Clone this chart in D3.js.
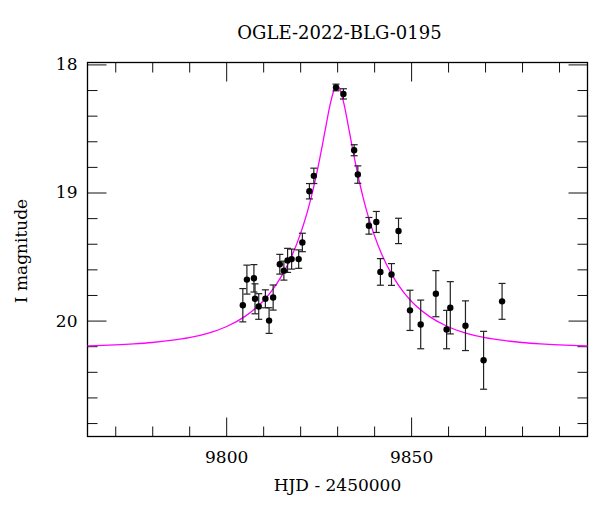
<!DOCTYPE html>
<html>
<head>
<meta charset="utf-8">
<!-- Load d3 -->
<script src="https://d3js.org/d3.v7.min.js"></script>
<title>OGLE-2022-BLG-0195</title>
<style type="text/css">
  body { margin: 0; background: #fff; }
  text { font-family: "DejaVu Serif", serif; fill: #000; }
</style>
</head>
<body>
<div id="myvisualization"></div>
<script>

// observed points (HJD - 2450000, I mag, error)
var hjd = [9804.5, 9805.6, 9807.5, 9807.8, 9808.8, 9810.6, 9811.6, 9812.7, 9814.5, 9815.6,
           9816.6, 9817.7, 9819.6, 9820.6, 9822.5, 9823.7, 9829.7, 9831.7, 9834.6, 9835.6,
           9838.6, 9840.6, 9841.7, 9844.7, 9846.6, 9849.7, 9852.6, 9856.7, 9859.6, 9860.6,
           9864.7, 9869.6, 9874.6];
var mag = [19.88, 19.68, 19.67, 19.83, 19.89, 19.83, 20.00, 19.82, 19.56, 19.61,
           19.53, 19.52, 19.52, 19.39, 18.99, 18.87, 18.18, 18.23, 18.67, 18.86,
           19.26, 19.23, 19.62, 19.64, 19.30, 19.92, 20.03, 19.79, 20.07, 19.90,
           20.04, 20.31, 19.85];
var err = [0.13, 0.113, 0.107, 0.117, 0.10, 0.07, 0.10, 0.098, 0.077, 0.074,
           0.094, 0.078, 0.072, 0.072, 0.06, 0.06, 0.026, 0.04, 0.043, 0.068,
           0.065, 0.082, 0.104, 0.085, 0.099, 0.157, 0.19, 0.18, 0.15, 0.204,
           0.194, 0.226, 0.14];

// model curve
var modelDay = [9760, 9765, 9770, 9775, 9780, 9785, 9790, 9795, 9800, 9805, 9809, 9810, 9812, 9815,
                9818, 9820, 9821, 9822, 9823, 9824, 9825, 9826, 9827, 9828, 9829, 9829.5, 9830,
                9830.5, 9831, 9832, 9833, 9834, 9835, 9836, 9837, 9838, 9839, 9840, 9842, 9845,
                9848, 9850, 9851, 9855, 9860, 9865, 9870, 9875, 9880, 9885, 9890, 9895, 9900];
var modelMag = [20.200, 20.196, 20.190, 20.182, 20.171, 20.155, 20.133, 20.099, 20.048, 19.969, 19.876, 19.847, 19.780, 19.651,
                19.479, 19.329, 19.242, 19.145, 19.036, 18.914, 18.779, 18.632, 18.477, 18.328, 18.213, 18.179, 18.167,
                18.179, 18.213, 18.328, 18.477, 18.632, 18.779, 18.914, 19.036, 19.145, 19.242, 19.329, 19.479, 19.651,
                19.780, 19.847, 19.876, 19.969, 20.048, 20.099, 20.133, 20.155, 20.171, 20.182, 20.190, 20.196, 20.200];

// ticks
var xMajor = [9800, 9850];
var xMinor = [9770, 9780, 9790, 9810, 9820, 9830, 9840, 9860, 9870, 9880, 9890];
var yMajor = [18, 19, 20];
var yMinor = [18.2, 18.4, 18.6, 18.8, 19.2, 19.4, 19.6, 19.8, 20.2, 20.4, 20.6, 20.8];

// plot box
var W = 600, H = 512;
var box = {left: 87.5, right: 587.5, top: 62.5, bottom: 436.5};

var svg = d3.select("#myvisualization").append("svg")
  .attr("width", W)
  .attr("height", H);

var x = d3.scaleLinear().domain([9762.5, 9897.7]).range([box.left, box.right]);
var y = d3.scaleLinear().domain([17.985, 20.905]).range([box.top, box.bottom]);

svg.append("clipPath").attr("id", "clip")
  .append("rect")
  .attr("x", box.left).attr("y", box.top)
  .attr("width", box.right - box.left).attr("height", box.bottom - box.top);

// axes with inward ticks on all four sides
function styleAxis(g) {
  g.select(".domain").remove();
  g.selectAll(".tick line").attr("stroke", "#111").attr("stroke-width", 1);
  g.selectAll("text").style("font-size", "17px").style("font-family", "DejaVu Serif, serif");
}

svg.append("g").attr("transform", "translate(0," + box.bottom + ")")
  .call(d3.axisBottom(x).tickValues(xMajor).tickSize(-19).tickPadding(14).tickFormat(d3.format("d")))
  .call(styleAxis);
svg.append("g").attr("transform", "translate(0," + box.bottom + ")")
  .call(d3.axisBottom(x).tickValues(xMinor).tickSize(-10).tickFormat(""))
  .call(styleAxis);
svg.append("g").attr("transform", "translate(0," + box.top + ")")
  .call(d3.axisTop(x).tickValues(xMajor).tickSize(-19).tickFormat(""))
  .call(styleAxis);
svg.append("g").attr("transform", "translate(0," + box.top + ")")
  .call(d3.axisTop(x).tickValues(xMinor).tickSize(-10).tickFormat(""))
  .call(styleAxis);

svg.append("g").attr("transform", "translate(" + box.left + ",0)")
  .call(d3.axisLeft(y).tickValues(yMajor).tickSize(-19).tickPadding(10).tickFormat(d3.format("d")))
  .call(styleAxis);
svg.append("g").attr("transform", "translate(" + box.left + ",0)")
  .call(d3.axisLeft(y).tickValues(yMinor).tickSize(-10).tickFormat(""))
  .call(styleAxis);
svg.append("g").attr("transform", "translate(" + box.right + ",0)")
  .call(d3.axisRight(y).tickValues(yMajor).tickSize(-19).tickFormat(""))
  .call(styleAxis);
svg.append("g").attr("transform", "translate(" + box.right + ",0)")
  .call(d3.axisRight(y).tickValues(yMinor).tickSize(-10).tickFormat(""))
  .call(styleAxis);

// frame
svg.append("rect")
  .attr("x", box.left).attr("y", box.top)
  .attr("width", box.right - box.left).attr("height", box.bottom - box.top)
  .attr("fill", "none").attr("stroke", "#000").attr("stroke-width", 1.3);

// model curve
var model = modelDay.map(function(d, i) { return [d, modelMag[i]]; });
svg.append("path")
  .datum(model)
  .attr("clip-path", "url(#clip)")
  .attr("fill", "none")
  .attr("stroke", "#ff00ff")
  .attr("stroke-width", 1.3)
  .attr("d", d3.line()
    .x(function(d) { return x(d[0]); })
    .y(function(d) { return y(d[1]); })
    .curve(d3.curveMonotoneX));

// error bars
var pts = hjd.map(function(d, i) { return {t: d, m: mag[i], e: err[i]}; });
var eb = svg.append("g").attr("stroke", "#222").attr("stroke-width", 1.2);
eb.selectAll("line.v").data(pts).enter().append("line")
  .attr("x1", function(d) { return x(d.t); })
  .attr("x2", function(d) { return x(d.t); })
  .attr("y1", function(d) { return y(d.m - d.e); })
  .attr("y2", function(d) { return y(d.m + d.e); });
eb.selectAll("line.top").data(pts).enter().append("line")
  .attr("x1", function(d) { return x(d.t) - 3.5; })
  .attr("x2", function(d) { return x(d.t) + 3.5; })
  .attr("y1", function(d) { return y(d.m - d.e); })
  .attr("y2", function(d) { return y(d.m - d.e); });
eb.selectAll("line.bot").data(pts).enter().append("line")
  .attr("x1", function(d) { return x(d.t) - 3.5; })
  .attr("x2", function(d) { return x(d.t) + 3.5; })
  .attr("y1", function(d) { return y(d.m + d.e); })
  .attr("y2", function(d) { return y(d.m + d.e); });

// points
svg.append("g").selectAll("circle").data(pts).enter().append("circle")
  .attr("cx", function(d) { return x(d.t); })
  .attr("cy", function(d) { return y(d.m); })
  .attr("r", 3.2)
  .attr("fill", "#000");

// titles
svg.append("text")
  .attr("x", (box.left + box.right) / 2 + 2).attr("y", 39)
  .attr("text-anchor", "middle")
  .style("font-size", "18px")
  .text("OGLE-2022-BLG-0195");

svg.append("text")
  .attr("x", (box.left + box.right) / 2).attr("y", 491)
  .attr("text-anchor", "middle")
  .style("font-size", "17px")
  .text("HJD - 2450000");

svg.append("text")
  .attr("transform", "translate(27," + 251 + ") rotate(-90)")
  .attr("text-anchor", "middle")
  .style("font-size", "17px")
  .text("I magnitude");

</script>
</body>
</html>
